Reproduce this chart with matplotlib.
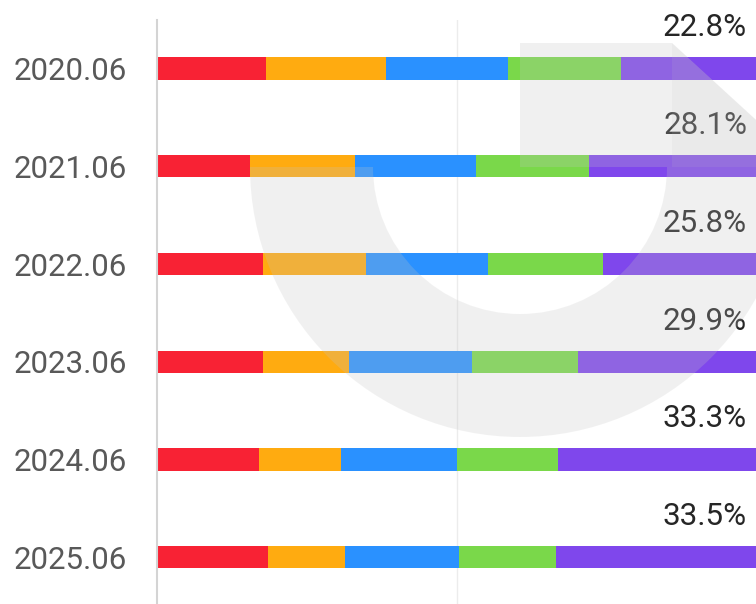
import matplotlib
matplotlib.use("Agg")
import matplotlib.pyplot as plt
from matplotlib.patches import Wedge, Polygon
from matplotlib.transforms import IdentityTransform

categories = ['2020.06', '2021.06', '2022.06', '2023.06', '2024.06', '2025.06']
s_red = [18.1, 15.4, 17.6, 17.6, 17.0, 18.4]
s_orange = [20.0, 17.5, 17.2, 14.4, 13.6, 12.9]
s_blue = [20.4, 20.2, 20.3, 20.4, 19.4, 18.9]
s_green = [18.7, 18.8, 19.1, 17.7, 16.7, 16.3]
s_purple = [22.8, 28.1, 25.8, 29.9, 33.3, 33.5]

series = [s_red, s_orange, s_blue, s_green, s_purple]
colors = ['#F82234', '#FFAB10', '#2A91FF', '#7AD84A', '#7F47EC']

plt.rcParams['font.family'] = ['Roboto', 'DejaVu Sans']

W, H = 756, 604
fig = plt.figure(figsize=(W / 100, H / 100), dpi=100)
ax = fig.add_axes([157.3 / W, (H - 606.2) / H, 600 / W, 586.6 / H])

y = list(range(len(categories)))
left = [0.0] * len(categories)
for vals, c in zip(series, colors):
    ax.barh(y, vals, left=left, height=0.228, color=c, zorder=2)
    left = [l + v for l, v in zip(left, vals)]

for i, v in enumerate(s_purple):
    ax.text(98.3, i - 0.33, f"{v}%", ha='right', va='baseline',
            fontsize=22.6, color='#262626', zorder=3)

ax.set_xlim(0, 100)
ax.set_ylim(len(categories) - 0.5, -0.5)
ax.set_yticks(y)
ax.set_yticklabels(categories, fontsize=22.5, color='#595959')
ax.tick_params(axis='y', length=0, pad=22)
ax.set_xticks([])
ax.axvline(50, color='#ececec', lw=1, zorder=1)
for s in ['top', 'right', 'bottom']:
    ax.spines[s].set_visible(False)
ax.spines['left'].set_color('#d4d4d4')
ax.spines['left'].set_linewidth(1.5)

# watermark (image pixel coords -> display coords)
def d(x, yy):
    return (x, H - yy)

wm = dict(facecolor=(196/255, 196/255, 196/255), alpha=0.24, edgecolor='none',
          transform=IdentityTransform(), clip_on=False, zorder=10)
ax.add_artist(Wedge(d(520, 167), 270, 180, 360, width=123, **wm))
ax.add_artist(Polygon([d(520, 43), d(672, 43), d(790, 151), d(790, 167), d(520, 167)], **wm))
wm2 = dict(wm)
wm2['alpha'] = 0.12
ax.add_artist(Polygon([d(672, 43), d(790, 151), d(790, 167), d(672, 167)], **wm2))

fig.savefig('out.png', dpi=100)
